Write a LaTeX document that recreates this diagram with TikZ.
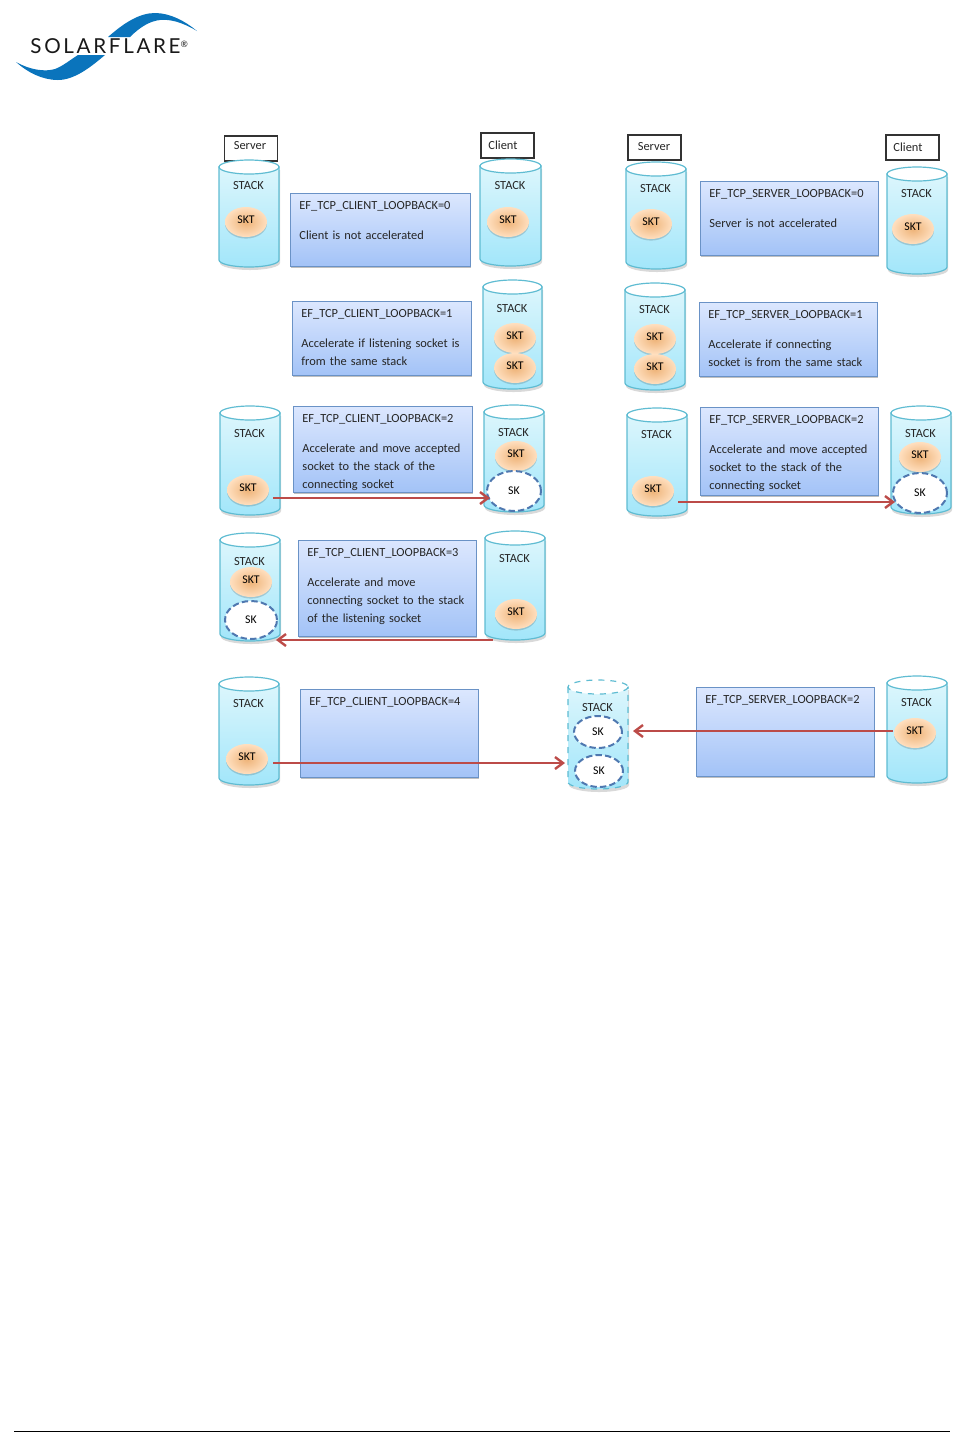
\documentclass[tikz,border=0pt]{standalone}
\usepackage{fontspec}
\setmainfont{Carlito}
\newfontfamily\logofont[LetterSpace=13]{Lato}
\usetikzlibrary{arrows.meta,shapes.geometric,shadows}
\definecolor{cylline}{HTML}{5FBCD2}
\definecolor{cyltop}{HTML}{DCF6FC}
\definecolor{cylbot}{HTML}{A2E6FA}
\definecolor{boxline}{HTML}{6A92C6}
\definecolor{boxtop}{HTML}{DCE7FE}
\definecolor{boxbot}{HTML}{A3C3F7}
\definecolor{red1}{HTML}{BC4B48}
\definecolor{dash1}{HTML}{4F78B0}
\definecolor{solblue}{HTML}{0A74BC}
\newcommand\txtfont{\fontsize{6.2pt}{9pt}\selectfont\spaceskip 2.05pt\relax}
\tikzset{
  x=0.5pt,y=-0.5pt,
  txt/.style={inner sep=0pt,font=\txtfont,text=black!85},
  cfgbox/.style={draw=boxline,line width=0.5pt,top color=boxtop,bottom color=boxbot,inner sep=0pt,
     drop shadow={shadow xshift=0.4pt,shadow yshift=-0.8pt,opacity=.25,fill=black}},
  cfgtext/.style={txt,anchor=north west,align=left},
  sktnode/.style={ellipse,inner sep=0pt,minimum width=21pt,minimum height=15pt,inner color=orange!55!brown!60!white,outer color=orange!25!white,
     drop shadow={shadow xshift=0pt,shadow yshift=-0.8pt,opacity=.15,fill=black}},
  sknode/.style={ellipse,inner sep=0pt,fill=white,draw=dash1,line width=1pt,dash pattern=on 3.2pt off 1.6pt},
  arrowline/.style={draw=red1,line width=1.2pt,-{Straight Barb[length=4pt,width=6pt,line width=1.2pt]}},
  labelbox/.style={draw=black!80,line width=0.55pt,fill=white,inner sep=0pt,minimum width=26.5pt,minimum height=12.5pt,
     drop shadow={shadow xshift=0.3pt,shadow yshift=-0.3pt,opacity=.25,fill=black}},
}
% name x1 y1 x2 y2 extra-style stack-label-y
\newcommand\stackcyl[7][solid]{%
  \pgfmathsetmacro\cx{(#3+#5)/2}\pgfmathsetmacro\rx{(#5-#3)/2}%
  \pgfmathsetmacro\ya{#4+7}\pgfmathsetmacro\yb{#6-7}%
  \fill[black,opacity=.15] (#3+1,\ya+3) -- (#3+1,\yb+3) arc[start angle=180,end angle=0,x radius=\rx,y radius=7] -- (#5+1,\ya+3) -- cycle;
  \path[draw=cylline,line width=0.6pt,top color=cyltop,bottom color=cylbot,#1] (#3,\ya) -- (#3,\yb) arc[start angle=180,end angle=0,x radius=\rx,y radius=7] -- (#5,\ya) -- cycle;
  \path[draw=cylline,line width=0.6pt,fill=white,#1] (\cx,\ya) ellipse[x radius=\rx,y radius=7];
  \node[txt] (#2s) at (\cx-0.5,#7+0.5) {STACK};
}
\newcommand\skt[3]{\node[sktnode] (#1) at (#2,#3) {\raisebox{2.4pt}{\fontsize{5.9pt}{6pt}\selectfont SKT}};}
\newcommand\sk[5]{\node[sknode,minimum width=#4pt,minimum height=#5pt] (#1) at (#2,#3) {\fontsize{5.9pt}{6pt}\selectfont SK};}
% name x1 y1 x2 y2 text
\newcommand\cfg[6]{%
  \node[cfgbox,minimum width={(#4-#2)*0.5pt},minimum height={(#5-#3)*0.5pt}] (#1) at ({(#2+#4)/2},{(#3+#5)/2}) {};
  \node[cfgtext] (#1t) at (#2+9,#3+8.5) {#6};
}
\newcommand\gap{\\[6pt]}
\begin{document}
\begin{tikzpicture}
\useasboundingbox (0,0) rectangle (956,1432);
% logo
\fill[solblue] (108,37) .. controls (125,22) and (140,13) .. (155,13) .. controls (170,13) and (185,21) .. (197,31)
   .. controls (182,22) and (170,19) .. (160,20) .. controls (150,21) and (140,27) .. (130,37) -- cycle;
\fill[solblue] (16,62) .. controls (30,70) and (45,72) .. (55,69) .. controls (63,66) and (70,60) .. (78,55) -- (105,55)
   .. controls (92,66) and (75,80) .. (58,80) .. controls (42,80) and (27,72) .. (16,62) -- cycle;
\node[inner sep=0pt,anchor=west,font=\logofont\fontsize{10.3pt}{10pt}\selectfont,text=black!90] (logo) at (30,46) {SOLARFLARE\raisebox{3pt}{\fontsize{4.4pt}{4pt}\selectfont ®}};
% labels
\node[labelbox] (lb1) at (251,148.5) {};
\node[txt] (lb1t) at (250,146) {Server};
\node[labelbox] (lb2) at (507.5,145.5) {};
\node[txt] (lb2t) at (503,145) {Client};
\node[labelbox] (lb3) at (654.5,147.5) {};
\node[txt] (lb3t) at (654,147) {Server};
\node[labelbox] (lb4) at (912.5,147.5) {};
\node[txt] (lb4t) at (908,147) {Client};
% cylinders
\stackcyl{a}{219}{160}{279}{267}{185}
\stackcyl{b}{480}{159}{541}{266}{185}
\stackcyl{c}{483}{280}{542}{389}{308}
\stackcyl{d}{220}{406}{280}{515}{433}
\stackcyl{e}{484}{405}{544}{512}{432}
\stackcyl{f}{220}{533}{280}{641}{561}
\stackcyl{g}{485}{531}{545}{640}{558}
\stackcyl{h}{219}{677}{279}{785}{703}
\stackcyl[dashed]{i}{568}{680}{628}{789}{707}
\stackcyl{j}{887}{676}{947}{783}{702}
\stackcyl{k}{626}{162}{686}{269}{188}
\stackcyl{l}{887}{167}{947}{274}{193}
\stackcyl{m}{625}{283}{685}{390}{309}
\stackcyl{n}{627}{408}{687}{516}{434}
\stackcyl{o}{891}{406}{951}{514}{433}
% config boxes
\cfg{c0}{290}{193}{470}{266}{EF\_TCP\_CLIENT\_LOOPBACK=0\gap Client is not accelerated}
\cfg{c1}{292}{301}{471}{375}{EF\_TCP\_CLIENT\_LOOPBACK=1\gap Accelerate if listening socket is\\from the same stack}
\cfg{c2}{293}{406}{472}{492}{EF\_TCP\_CLIENT\_LOOPBACK=2\gap Accelerate and move accepted\\socket to the stack of the\\connecting socket}
\cfg{c3}{298}{540}{476}{636}{EF\_TCP\_CLIENT\_LOOPBACK=3\gap Accelerate and move\\connecting socket to the stack\\of the listening socket}
\cfg{c4}{300}{689}{478}{777}{EF\_TCP\_CLIENT\_LOOPBACK=4}
\cfg{s0}{700}{181}{878}{255}{EF\_TCP\_SERVER\_LOOPBACK=0\gap Server is not accelerated}
\cfg{s1}{699}{302}{877}{376}{EF\_TCP\_SERVER\_LOOPBACK=1\gap Accelerate if connecting\\socket is from the same stack}
\cfg{s2}{700}{407}{878}{495}{EF\_TCP\_SERVER\_LOOPBACK=2\gap Accelerate and move accepted\\socket to the stack of the\\connecting socket}
\cfg{s3}{696}{687}{874}{776}{EF\_TCP\_SERVER\_LOOPBACK=2}
% sockets
\skt{a1}{246}{222}
\skt{b1}{508}{222}
\skt{c1k}{515}{338}
\skt{c2k}{515}{368}
\skt{d1}{248}{490}
\skt{e1}{516}{456}
\sk{e2}{514}{491}{27}{20}
\skt{f1}{251}{582}
\sk{f2}{251}{620}{26}{19}
\skt{g1}{516}{614}
\skt{h1}{247}{759}
\sk{i1}{598}{732}{24}{16}
\sk{i2}{599}{771}{24}{16}
\skt{j1}{915}{733}
\skt{k1}{651}{224}
\skt{l1}{913}{229}
\skt{m1}{655}{339}
\skt{m2}{655}{369}
\skt{n1}{653}{491}
\skt{o1}{920}{457}
\sk{o2}{920}{493}{27}{20}
% connectors
\coordinate (p1) at (273,498); \coordinate (q1) at (490,498);
\coordinate (p2) at (678,502); \coordinate (q2) at (895,502);
\coordinate (p3) at (493,640); \coordinate (q3) at (276,640);
\coordinate (p4) at (273,763); \coordinate (q4) at (565,763);
\coordinate (p5) at (893,731); \coordinate (q5) at (633,731);
\draw[arrowline] (p1) -- (q1);
\draw[arrowline] (p2) -- (q2);
\draw[arrowline] (p3) -- (q3);
\draw[arrowline] (p4) -- (q4);
\draw[arrowline] (p5) -- (q5);
% footer
\draw[black,line width=0.5pt] (14,1431) -- (950,1431);
\end{tikzpicture}
\end{document}
